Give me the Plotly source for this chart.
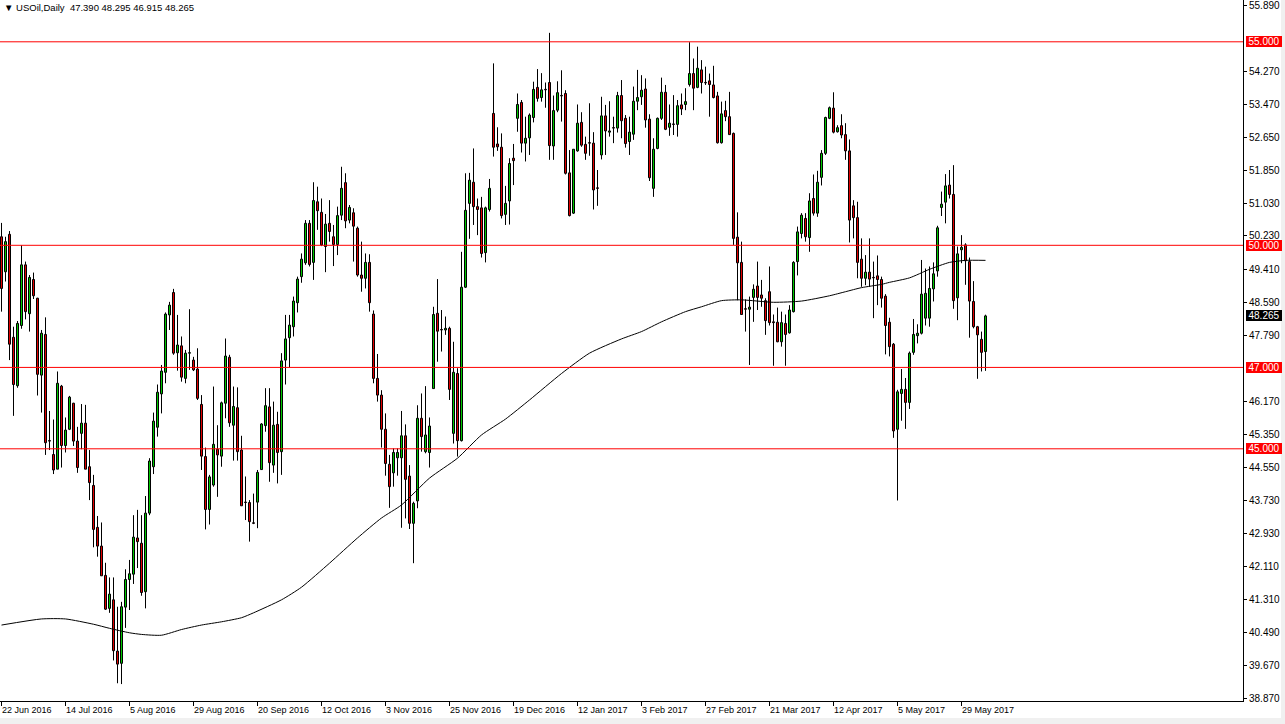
import plotly.graph_objects as go

# ---------------- data ----------------
opens = [50.21,49.35,50.27,47.74,46.55,48.03,49.52,48.32,49.16,48.70,
         46.81,47.81,45.19,44.86,44.50,46.54,45.08,45.48,46.12,45.19,
         45.38,45.63,44.56,44.10,43.07,42.61,41.89,41.08,41.29,40.03,
         39.73,41.11,41.79,41.92,42.81,42.68,41.49,43.42,44.56,45.53,
         46.35,46.88,48.29,48.84,47.36,47.53,46.73,47.35,47.18,46.96,
         46.09,44.81,43.51,44.11,44.99,44.82,46.12,47.25,45.58,46.01,
         44.97,43.68,43.68,43.17,43.69,44.49,45.57,46.03,44.60,45.60,
         44.93,47.18,47.73,48.00,48.59,49.23,49.57,50.54,49.58,51.07,
         50.81,49.97,50.54,50.21,50.02,50.74,51.54,50.62,50.80,50.42,
         49.27,49.19,49.58,48.31,46.73,46.32,45.48,44.62,44.41,44.78,
         44.78,45.32,44.33,43.17,43.72,45.75,44.93,44.91,46.48,48.33,
         47.92,47.92,47.96,45.38,46.85,45.20,48.97,51.03,51.55,50.95,
         50.92,49.82,50.88,53.24,52.49,52.41,50.76,51.09,52.14,53.12,
         53.51,52.51,52.64,53.14,53.88,53.63,53.82,54.00,52.44,53.32,
         53.67,53.73,51.78,50.79,52.32,53.02,52.48,52.51,52.51,51.40,
         52.22,53.18,52.78,52.88,52.88,53.68,53.12,52.55,52.73,53.54,
         53.65,53.84,53.10,51.40,52.38,53.12,53.76,52.90,52.97,52.97,
         53.45,53.46,53.95,54.22,53.88,54.31,53.99,54.04,53.94,53.67,
         52.52,53.31,53.16,52.75,50.20,49.58,48.43,48.43,48.72,49.00,
         48.78,48.64,48.86,48.12,48.11,47.63,48.08,47.85,48.37,49.60,
         50.29,50.66,50.19,51.15,50.79,51.67,52.26,53.12,53.37,52.79,
         52.94,52.72,52.32,50.97,50.68,49.66,49.19,49.34,49.20,49.25,
         49.16,48.75,48.11,47.57,45.48,46.36,46.46,46.14,47.37,47.78,
         47.84,48.21,48.21,48.93,49.37,50.93,51.06,51.48,51.25,48.71,
         49.89,50.01,49.60,48.62,48.00,47.69,47.39]
highs = [50.55,50.21,50.35,48.00,48.14,50.00,49.60,49.27,49.33,48.71,
         47.92,48.23,45.93,45.72,46.90,46.57,45.77,46.30,46.13,45.54,
         46.10,46.08,44.97,44.36,43.35,43.19,42.20,41.84,41.84,41.12,
         41.24,42.04,42.27,43.37,43.50,43.37,43.84,44.77,45.89,46.58,
         47.06,48.35,48.61,48.93,48.29,47.76,47.43,48.43,47.26,47.47,
         46.32,45.03,44.36,46.53,45.58,46.16,47.71,47.31,46.53,46.51,
         45.32,44.32,43.74,43.90,44.48,45.63,46.49,46.49,46.16,45.91,
         47.35,48.29,48.29,48.74,49.23,49.80,50.62,50.62,51.55,51.44,
         51.15,50.77,51.11,50.50,50.95,51.93,51.77,50.99,50.91,50.46,
         50.09,49.80,49.78,48.40,47.33,46.44,45.87,44.85,45.01,45.01,
         45.93,45.60,44.60,43.70,46.07,46.36,46.54,45.77,48.49,49.17,
         48.41,48.25,48.00,47.63,46.98,49.84,51.77,51.78,52.38,51.15,
         51.19,50.95,51.63,54.47,52.90,52.75,51.46,52.14,52.49,53.73,
         53.57,53.16,53.24,54.02,54.33,54.23,54.00,55.22,53.68,54.03,
         54.30,53.81,52.34,52.36,53.46,53.27,52.67,53.49,52.78,51.85,
         53.65,53.45,53.54,53.16,53.77,54.06,53.20,53.16,53.90,54.31,
         54.18,54.10,53.22,52.63,53.14,54.12,53.94,53.46,53.69,53.57,
         53.73,53.86,54.99,54.59,54.88,54.55,54.39,54.22,54.41,53.77,
         53.53,53.55,53.77,52.77,50.81,50.09,48.67,48.74,49.04,49.60,
         49.15,48.70,49.48,48.30,48.47,48.37,48.30,48.53,49.61,50.46,
         50.79,50.79,51.28,51.74,51.83,52.34,53.16,53.41,53.76,52.95,
         53.22,53.00,52.60,51.11,51.07,50.17,49.76,50.17,49.60,49.75,
         49.23,48.80,48.22,47.60,46.45,46.96,46.74,47.39,48.19,48.06,
         49.64,49.43,49.48,49.58,50.48,51.32,51.75,51.85,51.97,49.97,
         50.25,50.05,49.70,49.12,48.02,47.88,48.295]
lows = [48.37,49.11,47.18,45.81,46.50,47.95,48.18,47.88,48.68,46.31,
        45.89,44.85,44.97,44.38,44.50,44.54,44.91,45.46,45.07,44.41,
        44.99,44.50,43.74,42.58,42.35,41.88,41.04,40.97,39.80,39.24,
        39.22,40.60,41.04,41.68,42.07,41.39,41.08,43.37,44.38,45.30,
        45.87,46.61,47.92,47.31,46.92,46.65,46.61,46.94,46.91,46.20,
        44.48,43.02,43.14,44.07,43.82,44.56,45.75,45.54,44.71,44.71,
        43.60,43.25,42.72,43.15,43.05,44.48,45.42,44.19,44.41,44.15,
        44.36,46.58,47.00,47.76,48.35,49.08,49.52,49.48,49.15,50.38,
        49.98,49.34,50.09,49.49,49.76,50.62,50.42,50.54,49.60,49.23,
        48.86,48.94,48.37,46.61,46.16,45.03,44.34,43.55,44.07,44.34,
        43.06,43.29,43.03,42.19,43.54,44.93,44.89,44.54,46.48,47.14,
        47.39,47.80,46.20,45.13,44.81,45.18,48.95,50.16,50.50,50.25,
        49.70,49.58,50.83,52.18,52.32,50.66,50.50,50.51,51.48,52.79,
        52.28,52.06,52.22,53.02,53.53,53.53,53.38,52.10,52.10,53.27,
        53.04,51.74,50.71,50.77,52.30,52.42,52.10,52.20,50.88,50.97,
        52.11,52.22,52.67,52.51,52.77,52.63,52.40,52.22,52.59,53.32,
        53.45,52.89,51.58,51.19,52.36,53.08,52.83,52.69,52.71,52.67,
        53.20,53.32,53.90,53.32,53.86,53.73,53.94,53.16,53.61,52.50,
        52.50,53.05,52.71,50.01,48.65,48.29,47.88,47.06,48.12,48.41,
        48.49,47.80,48.03,47.04,47.62,47.51,47.04,47.83,48.35,49.26,
        50.17,50.09,49.84,50.73,50.70,51.47,52.22,53.10,52.75,52.77,
        52.63,52.10,50.07,50.17,49.19,48.98,49.02,48.98,48.21,48.53,
        48.47,47.32,47.27,45.27,43.73,45.69,45.49,45.98,47.31,47.59,
        47.81,48.03,48.00,48.62,49.23,50.72,50.54,51.15,48.44,48.16,
        49.56,49.03,47.73,47.96,46.72,46.90,46.915]
closes = [48.94,50.09,47.57,46.58,48.08,49.52,48.37,49.21,48.76,46.83,
          47.84,45.15,45.19,44.48,46.61,45.08,45.46,46.27,45.19,44.54,
          45.63,44.50,44.17,43.02,42.61,41.88,41.06,41.43,40.04,39.71,
          41.12,41.79,41.93,42.83,42.72,41.47,43.42,44.70,45.68,46.39,
          46.91,48.31,48.53,47.35,47.55,46.76,47.35,47.36,46.94,46.24,
          44.82,43.51,44.31,45.11,44.85,46.13,47.28,45.64,46.04,44.93,
          43.60,43.68,43.21,43.17,44.42,45.61,46.06,44.66,45.58,44.91,
          47.16,47.70,48.04,48.63,49.17,49.66,50.54,49.53,51.10,50.85,
          50.01,50.52,50.34,50.02,50.73,51.40,50.60,50.93,50.47,49.27,
          49.19,49.58,48.59,46.73,46.32,45.48,44.64,44.07,44.91,44.91,
          45.32,44.25,43.17,43.66,45.75,45.30,45.34,45.56,48.30,47.89,
          47.92,47.96,46.46,46.88,45.20,48.97,50.86,51.60,50.95,50.88,
          49.80,50.92,51.40,52.41,52.42,50.73,51.03,52.01,52.08,53.46,
          52.51,52.63,53.20,53.83,53.61,53.82,53.82,52.45,53.31,53.75,
          53.67,51.77,50.73,52.36,53.00,52.46,52.26,52.51,51.36,51.40,
          53.18,52.81,52.81,52.88,53.68,53.06,52.50,52.78,53.54,53.63,
          53.81,53.08,51.66,52.36,53.12,53.76,52.85,53.00,52.97,53.43,
          53.35,53.53,54.22,53.86,54.35,54.00,53.99,53.95,53.63,52.52,
          53.23,53.16,52.72,50.17,49.57,48.30,48.43,48.48,48.92,48.72,
          48.70,48.15,48.10,48.10,47.63,48.10,47.81,48.41,49.58,50.33,
          50.74,50.21,51.09,50.79,51.55,52.26,53.14,53.38,52.78,52.89,
          52.71,52.32,50.62,50.68,49.58,49.19,49.34,49.17,49.20,49.16,
          48.70,48.03,47.51,45.44,46.40,46.46,46.14,47.35,47.81,47.84,
          48.80,48.82,48.94,49.30,50.43,51.01,51.46,51.25,48.64,49.79,
          49.95,49.62,48.63,48.00,47.80,47.37,48.265]

# moving-average line, sampled (bar index, value)
ma_idx = [0, 10, 16, 23, 27, 32, 35, 40, 45, 50, 55, 60, 63, 70, 75, 82, 89,
          95, 100, 107, 114, 120, 126, 132, 140, 147, 155, 160, 165, 171, 175,
          180, 185, 193, 200, 207, 211, 215, 220, 222, 227, 232, 237, 241, 246]
ma_val = [40.67, 40.82, 40.82, 40.69, 40.59, 40.48, 40.44, 40.42, 40.56, 40.67,
          40.75, 40.85, 40.97, 41.29, 41.60, 42.19, 42.81, 43.30, 43.62, 44.28,
          44.77, 45.34, 45.73, 46.20, 46.85, 47.35, 47.70, 47.88, 48.12, 48.37,
          48.49, 48.64, 48.66, 48.60, 48.63, 48.76, 48.86, 48.96, 49.04, 49.09,
          49.20, 49.41, 49.58, 49.63, 49.63]

level_lines = [55.0, 50.0, 47.0, 45.0]
level_text = ["55.000", "50.000", "47.000", "45.000"]
last_price = 48.265
last_text = "48.265"

date_idx = [0, 16, 32, 48, 64, 80, 96, 112, 128, 144, 160, 176, 192, 208, 224, 240]
date_labels = ["22 Jun 2016", "14 Jul 2016", "5 Aug 2016", "29 Aug 2016",
               "20 Sep 2016", "12 Oct 2016", "3 Nov 2016", "25 Nov 2016",
               "19 Dec 2016", "12 Jan 2017", "3 Feb 2017", "27 Feb 2017",
               "21 Mar 2017", "12 Apr 2017", "5 May 2017", "29 May 2017"]

price_ticks = [38.87, 39.67, 40.49, 41.31, 42.11, 42.93, 43.73, 44.55, 45.35,
               46.17, 47.79, 48.59, 49.41, 50.23, 51.03, 51.85, 52.65,
               53.47, 54.27, 55.89]
price_tick_text = ["%.3f" % v for v in price_ticks]

title_text = "▼ USOil,Daily\u00a0\u00a047.390 48.295 46.915 48.265"

# ---------------- figure ----------------
W, H = 1285, 724
ML, MR, MT, MB = 0, 42, 0, 23
PW = W - ML - MR
PH = H - MT - MB
PX_PER_BAR = 4.0
x0 = -0.375
x1 = x0 + PW / PX_PER_BAR
y_lo, y_hi = 38.804, 56.027

n = len(opens)
idx = list(range(n))
GREEN = "#00C800"
RED = "#E00000"

# wicks (upper and lower segments, leaving the body interior visible)
wx, wy = [], []
for i in idx:
    top = max(opens[i], closes[i])
    bot = min(opens[i], closes[i])
    if highs[i] > top:
        wx += [i, i, None]
        wy += [top, highs[i], None]
    if lows[i] < bot:
        wx += [i, i, None]
        wy += [lows[i], bot, None]

fig = go.Figure()
fig.add_trace(go.Scatter(x=wx, y=wy, mode="lines",
                         line=dict(color="black", width=1),
                         hoverinfo="skip", showlegend=False))

body_base = [min(o, c) for o, c in zip(opens, closes)]
body_h = [max(abs(c - o), 0.012) for o, c in zip(opens, closes)]
body_col = [GREEN if c > o else RED for o, c in zip(opens, closes)]
fig.add_trace(go.Bar(x=idx, y=body_h, base=body_base, width=0.5,
                     marker=dict(color=body_col, line=dict(color="black", width=1)),
                     hoverinfo="skip", showlegend=False))

fig.add_trace(go.Scatter(x=ma_idx, y=ma_val, mode="lines",
                         line=dict(color="black", width=1, shape="spline", smoothing=0.6),
                         hoverinfo="skip", showlegend=False))

shapes = []
for lv in level_lines:
    shapes.append(dict(type="line", xref="paper", yref="y", x0=0, x1=1,
                       y0=lv, y1=lv, line=dict(color="#FF0000", width=1),
                       layer="above"))

# light grey window border on right and bottom
shapes.append(dict(type="rect", xref="paper", yref="paper",
                   x0=(1281 - ML) / PW, x1=(W - ML) / PW, y0=-(H - MT - PH + 10) / PH, y1=1.0 + 5 / PH,
                   fillcolor="#F0F0F0", line=dict(width=0), layer="above"))
shapes.append(dict(type="rect", xref="paper", yref="paper",
                   x0=-0.01, x1=(W - ML) / PW, y0=-(H - MT - PH) / PH, y1=-(718 - PH) / PH,
                   fillcolor="#F0F0F0", line=dict(width=0), layer="above"))

annotations = []
annotations.append(dict(xref="paper", yref="paper", x=0, y=1, xanchor="left", yanchor="top",
                        xshift=2, yshift=0, text=title_text, showarrow=False,
                        font=dict(family="Liberation Sans", size=9.5, color="black")))
for di, lab in zip(date_idx, date_labels):
    annotations.append(dict(xref="x", yref="paper", x=di, y=0, xanchor="left", yanchor="top",
                            xshift=-1.5, yshift=-2, text=lab, showarrow=False,
                            font=dict(family="Liberation Sans", size=9, color="black")))
for lv, tx in zip(level_lines, level_text):
    annotations.append(dict(xref="paper", yref="y", x=1, y=lv, xanchor="left", yanchor="middle",
                            xshift=2.5, text=tx, showarrow=False, bgcolor="#FF0000",
                            borderwidth=0, borderpad=0, width=36, height=11,
                            font=dict(family="Liberation Sans", size=10, color="white")))
annotations.append(dict(xref="paper", yref="y", x=1, y=last_price, xanchor="left", yanchor="middle",
                        xshift=2.5, text=last_text, showarrow=False, bgcolor="black",
                        borderwidth=0, borderpad=0, width=36, height=11,
                        font=dict(family="Liberation Sans", size=10, color="white")))

fig.update_layout(
    width=W, height=H,
    margin=dict(l=ML, r=MR, t=MT, b=MB, pad=0),
    paper_bgcolor="white", plot_bgcolor="white",
    showlegend=False, hovermode=False, bargap=0,
    shapes=shapes, annotations=annotations,
    xaxis=dict(range=[x0, x1], showgrid=False, zeroline=False,
               showline=True, linecolor="black", linewidth=1,
               ticks="outside", ticklen=4, tickcolor="black", tickwidth=1,
               tickvals=date_idx, showticklabels=False, fixedrange=True),
    yaxis=dict(range=[y_lo, y_hi], side="right", showgrid=False, zeroline=False,
               showline=True, linecolor="black", linewidth=1,
               ticks="outside", ticklen=3, tickcolor="black", tickwidth=1,
               tickvals=price_ticks, ticktext=price_tick_text,
               tickfont=dict(family="Liberation Sans", size=10, color="black"),
               fixedrange=True),
)

fig.write_html("out.html", config={"displayModeBar": False, "staticPlot": True},
               post_script="document.body.style.margin='0';document.body.style.overflow='hidden';")
